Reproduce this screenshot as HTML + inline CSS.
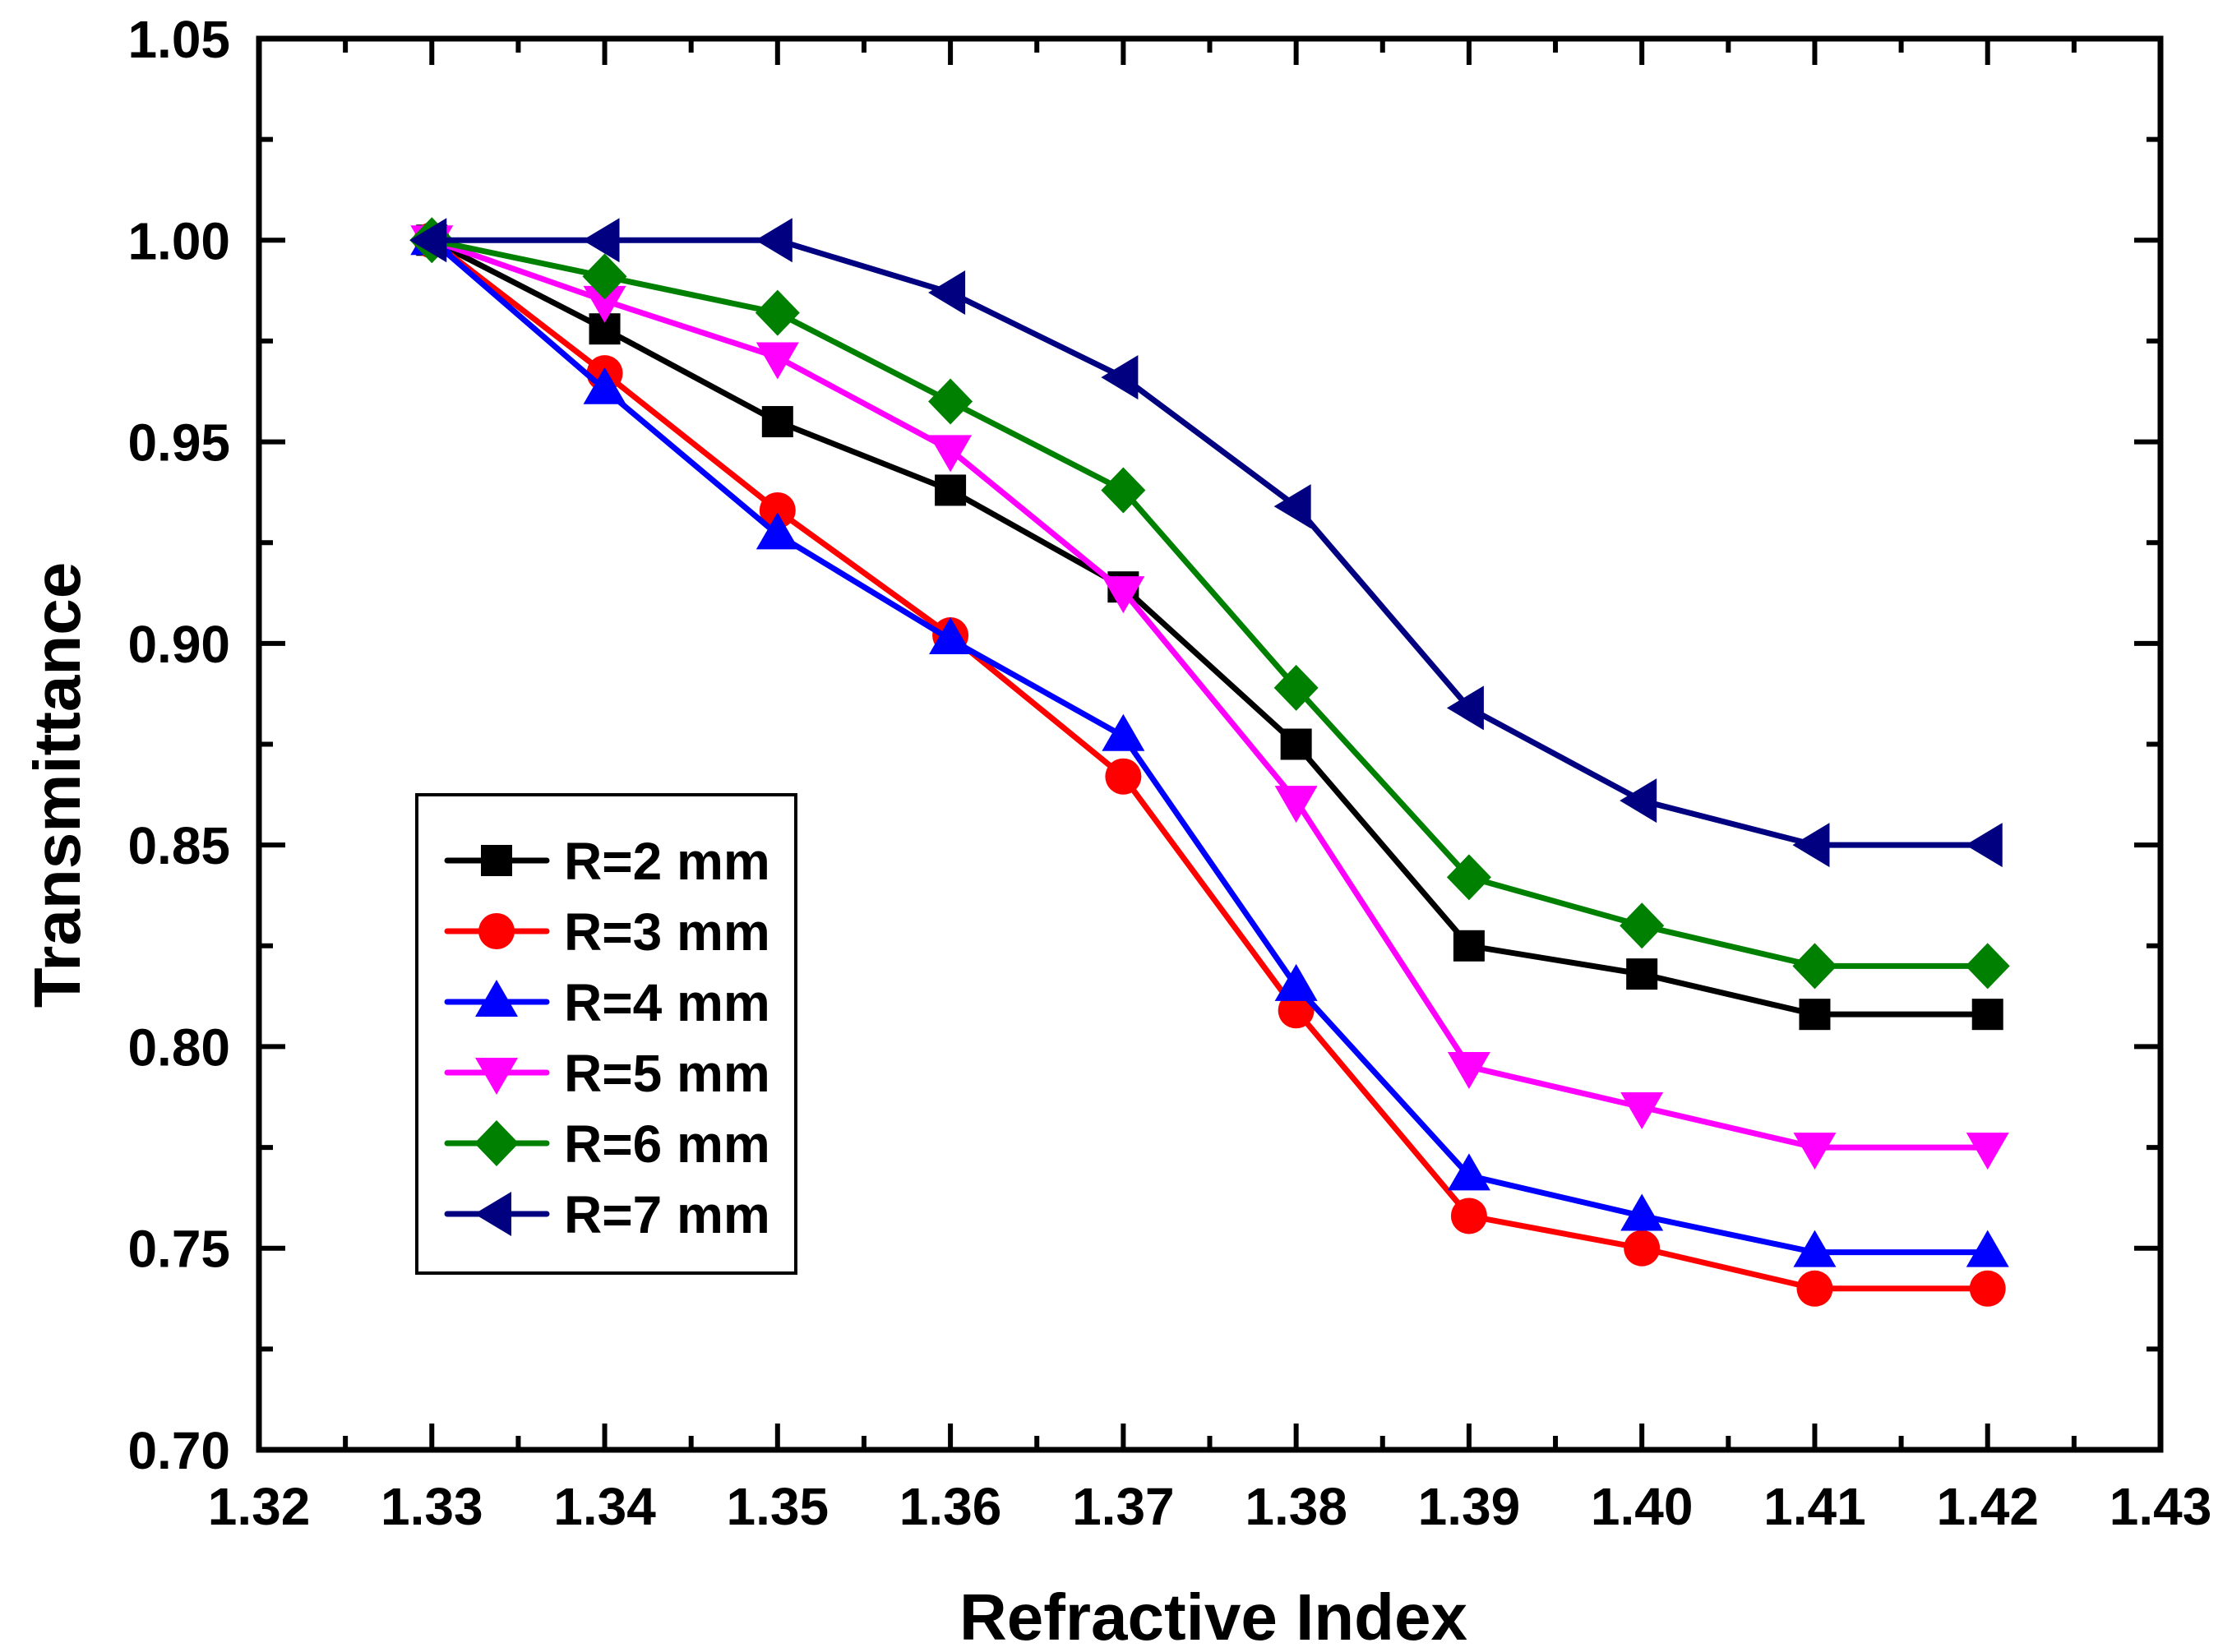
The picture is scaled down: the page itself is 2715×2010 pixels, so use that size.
<!DOCTYPE html>
<html><head><meta charset="utf-8"><style>
html,body{margin:0;padding:0;background:#fff;}
svg{display:block;font-family:"Liberation Sans",Arial,sans-serif;font-weight:bold;}
</style></head><body>
<svg id="chart" width="2715" height="2010" viewBox="0 0 2715 2010" xmlns="http://www.w3.org/2000/svg">
<g id="grid"></g>
<g id="series"></g>
<g id="axes"></g>
<g id="legend"></g>
</svg>
<script>
const xValues = [1.33,1.34,1.35,1.36,1.37,1.38,1.39,1.40,1.41,1.42];
const r2 = [1.000,0.978,0.955,0.938,0.914,0.875,0.825,0.818,0.808,0.808];
const r3 = [1.000,0.967,0.933,0.902,0.867,0.809,0.758,0.750,0.740,0.740];
const r4 = [1.000,0.963,0.927,0.901,0.877,0.815,0.768,0.758,0.749,0.749];
const r5 = [1.000,0.985,0.971,0.948,0.913,0.861,0.795,0.785,0.775,0.775];
const r6 = [1.000,0.991,0.982,0.960,0.938,0.889,0.842,0.830,0.820,0.820];
const r7 = [1.000,1.000,1.000,0.987,0.966,0.934,0.884,0.861,0.850,0.850];
const seriesNames = ["R=2 mm","R=3 mm","R=4 mm","R=5 mm","R=6 mm","R=7 mm"];
const xTicks = ["1.32","1.33","1.34","1.35","1.36","1.37","1.38","1.39","1.40","1.41","1.42","1.43"];
const yTicks = ["0.70","0.75","0.80","0.85","0.90","0.95","1.00","1.05"];

const NS="http://www.w3.org/2000/svg";
const L=315,R=2628,T=47,B=1764;
const xMin=1.32,xMax=1.43,yMin=0.70,yMax=1.05;
function X(v){return L+(v-xMin)/(xMax-xMin)*(R-L);}
function Y(v){return B-(v-yMin)/(yMax-yMin)*(B-T);}
function mk(tag,attrs,parent){const e=document.createElementNS(NS,tag);for(const k in attrs)e.setAttribute(k,attrs[k]);parent.appendChild(e);return e;}
const axes=document.getElementById('axes'),ser=document.getElementById('series'),leg=document.getElementById('legend');

const colors=["#000000","#ff0000","#0000ff","#ff00ff","#008000","#000080"];
const shapes=["square","circle","up","down","diamond","left"];
const data=[r2,r3,r4,r5,r6,r7];

function marker(shape,cx,cy,color,parent){
  let e;
  if(shape==="square") e=mk('rect',{x:cx-19,y:cy-19,width:38,height:38,fill:color},parent);
  else if(shape==="circle") e=mk('ellipse',{cx:cx,cy:cy,rx:22,ry:22,fill:color},parent);
  else if(shape==="up") e=mk('polygon',{points:`${cx},${cy-27} ${cx+26},${cy+18} ${cx-26},${cy+18}`,fill:color},parent);
  else if(shape==="down") e=mk('polygon',{points:`${cx},${cy+27} ${cx+26},${cy-18} ${cx-26},${cy-18}`,fill:color},parent);
  else if(shape==="diamond") e=mk('polygon',{points:`${cx},${cy-28} ${cx+27},${cy} ${cx},${cy+28} ${cx-27},${cy}`,fill:color},parent);
  else e=mk('polygon',{points:`${cx-27},${cy} ${cx+18},${cy-27} ${cx+18},${cy+27}`,fill:color},parent);
  return e;
}

data.forEach((arr,si)=>{
  const g=mk('g',{},ser);
  
  
  const pts=arr.map((v,i)=>X(xValues[i])+','+Y(v)).join(' ');
  const pl=mk('polyline',{points:pts,fill:'none',stroke:colors[si],'stroke-width':7,'stroke-linejoin':'round'},g);
  
  
  arr.forEach((v,i)=>{
    const m=marker(shapes[si],X(xValues[i]),Y(v),colors[si],g);
    
    
  });
});

const fr=mk('rect',{x:L,y:T,width:R-L,height:B-T,fill:'none',stroke:'#000','stroke-width':7},axes);



xTicks.forEach((t,i)=>{
  const v=parseFloat(t),x=X(v);
  mk('line',{x1:x,y1:B,x2:x,y2:B-32,stroke:'#000','stroke-width':6},axes);
  mk('line',{x1:x,y1:T,x2:x,y2:T+32,stroke:'#000','stroke-width':6},axes);
  if(i<xTicks.length-1){const xm=X(v+0.005);
    mk('line',{x1:xm,y1:B,x2:xm,y2:B-17,stroke:'#000','stroke-width':6},axes);
    mk('line',{x1:xm,y1:T,x2:xm,y2:T+17,stroke:'#000','stroke-width':6},axes);}
  const tx=mk('text',{x:x,y:1855,'font-size':64,'text-anchor':'middle',fill:'#000'},axes);
  tx.textContent=t;
  
  
});
yTicks.forEach((t,i)=>{
  const v=parseFloat(t),y=Y(v);
  mk('line',{x1:L,y1:y,x2:L+32,y2:y,stroke:'#000','stroke-width':6},axes);
  mk('line',{x1:R,y1:y,x2:R-32,y2:y,stroke:'#000','stroke-width':6},axes);
  if(i<yTicks.length-1){const ym=Y(v+0.025);
    mk('line',{x1:L,y1:ym,x2:L+17,y2:ym,stroke:'#000','stroke-width':6},axes);
    mk('line',{x1:R,y1:ym,x2:R-17,y2:ym,stroke:'#000','stroke-width':6},axes);}
  const tx=mk('text',{x:280,y:y+23,'font-size':64,'text-anchor':'end',fill:'#000'},axes);
  tx.textContent=t;
  
  
});
const xt=mk('text',{x:1476,y:1995,'font-size':80,'text-anchor':'middle',fill:'#000'},axes);
xt.textContent='Refractive Index';


const yt=mk('text',{x:0,y:0,'font-size':80,'text-anchor':'middle',fill:'#000',transform:'translate(97,955) rotate(-90)'},axes);
yt.textContent='Transmittance';



const lb=mk('rect',{x:507,y:967,width:461,height:582,fill:'#fff',stroke:'#000','stroke-width':4},leg);


seriesNames.forEach((n,i)=>{
  const y=1047+i*86;
  const g=mk('g',{},leg);
  
  
  mk('line',{x1:544,y1:y,x2:665,y2:y,stroke:colors[i],'stroke-width':7,'stroke-linecap':'round'},g);
  marker(shapes[i],604,y,colors[i],g);
  const t=mk('text',{x:686,y:y+23,'font-size':64,fill:'#000'},g);
  t.textContent=n;
});
</script>
</body></html>
